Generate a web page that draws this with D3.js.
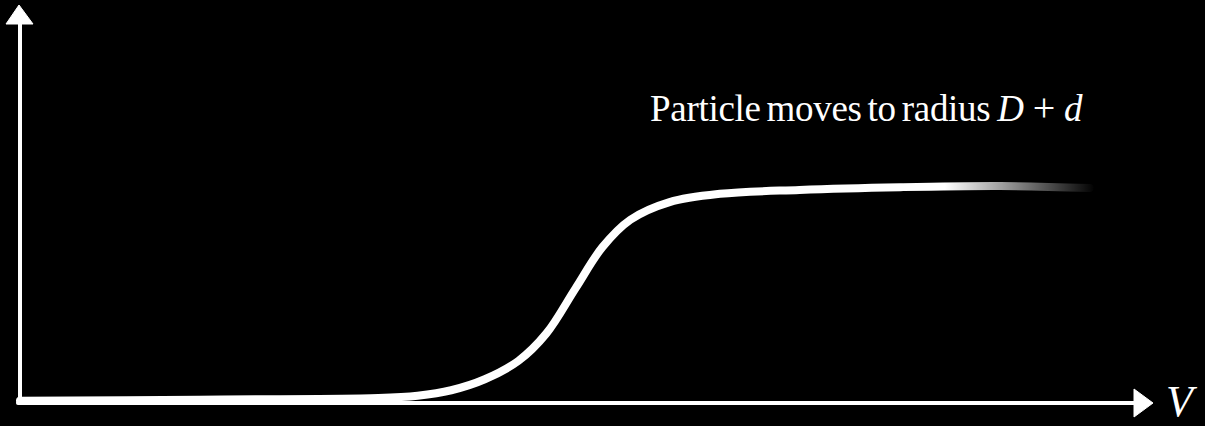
<!DOCTYPE html>
<html><head><meta charset="utf-8">
<script src="https://cdn.jsdelivr.net/npm/d3@7"></script>
<style>html,body{margin:0;padding:0;background:#000;}svg{display:block;}</style>
</head><body>
<script>
// Data (V in arbitrary units 0..100, response 0..1)
const vValues =    [0, 16, 32, 35.5, 38.5, 41.5, 44.5, 47.0, 49.6, 52.0, 54.5, 58.0, 62.5, 69.6, 78.6, 87.5, 95.5];
const response =   [0.003, 0.006, 0.010, 0.016, 0.030, 0.058, 0.105, 0.175, 0.290, 0.395, 0.465, 0.510, 0.531, 0.541, 0.548, 0.551, 0.546];
const annotation = ["Particle moves to radius", "D", "+", "d"];
const axisLabel = "V";

const W = 1205, H = 426;
const svg = d3.select("body").append("svg").attr("width", W).attr("height", H)
  .style("background", "#000");

const x = d3.scaleLinear().domain([0, 100]).range([20, 1140]);
const y = d3.scaleLinear().domain([0, 1]).range([402, 10]);

// gradient for tapering tail
const defs = svg.append("defs");
const grad = defs.append("linearGradient").attr("id", "fade")
  .attr("gradientUnits", "userSpaceOnUse")
  .attr("x1", x(0)).attr("x2", x(96)).attr("y1", 0).attr("y2", 0);
grad.append("stop").attr("offset", "0.86").attr("stop-color", "#fff").attr("stop-opacity", 1);
grad.append("stop").attr("offset", "1").attr("stop-color", "#fff").attr("stop-opacity", 0);

// axes
const axisG = svg.append("g").attr("stroke", "#fff").attr("fill", "#fff");
axisG.append("line").attr("x1", x(0)).attr("y1", y(0)).attr("x2", x(0)).attr("y2", 20)
  .attr("stroke-width", 4).attr("stroke-linecap", "round");
axisG.append("path").attr("d", `M${x(0)-14},24 L${x(0)-1},5 L${x(0)+13},24 Z`).attr("stroke-width", 1).attr("stroke-linejoin","round");
axisG.append("line").attr("x1", x(0)-2).attr("y1", y(0)+1).attr("x2", 1138).attr("y2", y(0)+1)
  .attr("stroke-width", 4).attr("stroke-linecap", "round");
axisG.append("path").attr("d", `M1134,389 L1153,403 L1134,417 Z`).attr("stroke-width", 1).attr("stroke-linejoin","round");

// curve
const line = d3.line().x((d, i) => x(vValues[i])).y(d => y(d)).curve(d3.curveCatmullRom.alpha(0.5));
svg.append("path").datum(response).attr("d", line)
  .attr("fill", "none").attr("stroke", "url(#fade)").attr("stroke-width", 8)
  .attr("stroke-linecap", "round");

// annotation
const t = svg.append("text").attr("x", 650).attr("y", 121)
  .attr("fill", "#fff").style("font-family", "'Liberation Serif', 'DejaVu Serif', serif")
  .style("font-size", "37px").style("word-spacing", "-3px").style("letter-spacing", "-0.3px");
t.append("tspan").text(annotation[0]);
t.append("tspan").attr("dx", 7).style("font-style", "italic").text(annotation[1]);
t.append("tspan").attr("dx", 9).style("font-size", "40px").text(annotation[2]);
t.append("tspan").attr("dx", 9).style("font-style", "italic").text(annotation[3]);

svg.append("text").attr("x", 1166).attr("y", 416).attr("fill", "#fff")
  .style("font-family", "'Liberation Serif', 'DejaVu Serif', serif")
  .style("font-style", "italic").style("font-size", "44px").text(axisLabel);
</script>
</body></html>
